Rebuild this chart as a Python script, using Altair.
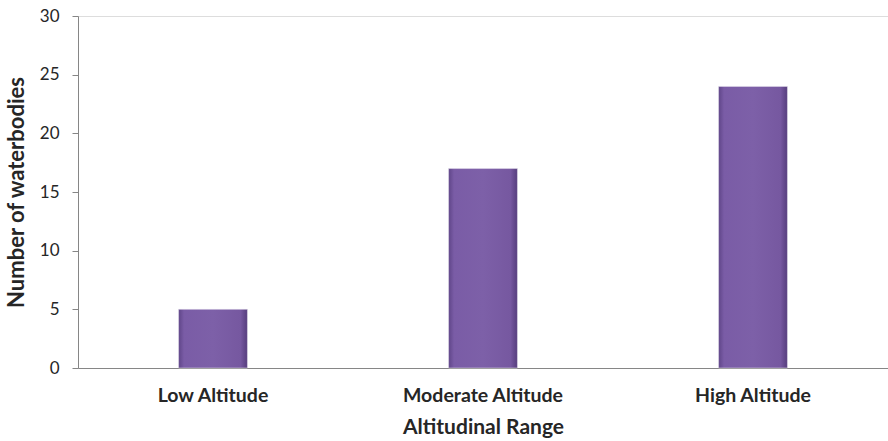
import altair as alt
import pandas as pd

categories = ["Low Altitude", "Moderate Altitude", "High Altitude"]
counts = [5, 17, 24]
y_ticks = [0, 5, 10, 15, 20, 25, 30]

df = pd.DataFrame({"range": categories, "count": counts})

FONT = "Lato"

bar_fill = alt.Gradient(
    gradient="linear",
    stops=[
        alt.GradientStop(color="#5f4588", offset=0),
        alt.GradientStop(color="#7a5ca6", offset=0.08),
        alt.GradientStop(color="#7d60a8", offset=0.5),
        alt.GradientStop(color="#7658a0", offset=0.9),
        alt.GradientStop(color="#553d7c", offset=1),
    ],
    x1=0, x2=1, y1=0, y2=0,
)

chart = (
    alt.Chart(df)
    .mark_bar(fill=bar_fill, stroke="#e8e4ef", strokeWidth=0.5)
    .encode(
        x=alt.X(
            "range:N",
            sort=categories,
            title="Altitudinal Range",
            scale=alt.Scale(paddingInner=0.745, paddingOuter=0.3725),
            axis=alt.Axis(
                labelAngle=0,
                labelFont=FONT,
                labelFontSize=19.5,
                labelFontWeight="bold",
                labelColor="#262626",
                labelPadding=18,
                ticks=False,
                domainColor="#868686",
                domainWidth=1,
                titleFont=FONT,
                titleFontSize=21,
                titleFontWeight="bold",
                titleColor="#262626",
                titlePadding=12,
            ),
        ),
        y=alt.Y(
            "count:Q",
            title="Number of waterbodies",
            scale=alt.Scale(domain=[0, 30], nice=False),
            axis=alt.Axis(
                values=y_ticks,
                grid=False,
                labelFont=FONT,
                labelFontSize=17,
                labelColor="#262626",
                labelPadding=13,
                tickSize=6,
                tickColor="#868686",
                domainColor="#868686",
                domainWidth=1,
                titleFont=FONT,
                titleFontSize=22,
                titleFontWeight="bold",
                titleColor="#262626",
                titlePadding=11,
            ),
        ),
    )
    .properties(
        width=810,
        height=352,
        autosize=alt.AutoSizeParams(type="none"),
        padding={"left": 78, "top": 16, "right": 0, "bottom": 73},
    )
    .configure_view(stroke=None)
    .configure(background="white")
)

chart.save("out.html", embed_options={"renderer": "svg", "actions": False})
